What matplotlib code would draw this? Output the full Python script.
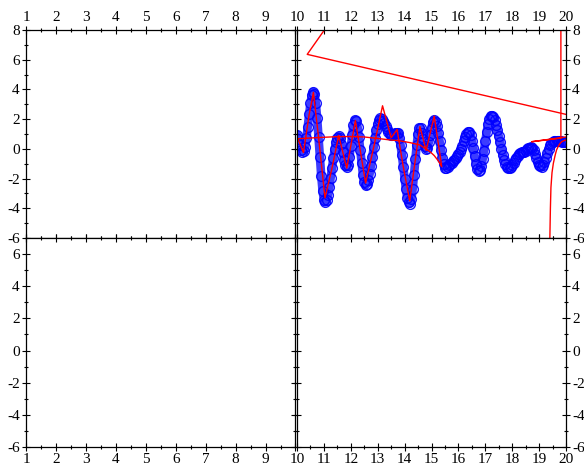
import numpy as np
import matplotlib
matplotlib.use("Agg")
import matplotlib.pyplot as plt
from matplotlib.ticker import MultipleLocator

plt.rcParams['font.family'] = ['Liberation Serif', 'DejaVu Serif']
plt.rcParams['axes.unicode_minus'] = False

# ---- data ----
x_start, x_stop, x_count = 10.0, 20.0, 201
blue_y = [
    0.95, 0.65, 0.25, -0.05, -0.2, -0.17, 0.13, 0.72, 1.49, 2.32, 3.07, 3.60, 3.84, 3.69, 3.07, 2.06, 0.80, -0.55, -1.81, -2.82,
    -3.44, -3.60, -3.45, -3.11, -2.60, -1.98, -1.31, -0.64, -0.04, 0.44, 0.75, 0.85, 0.71, 0.33, -0.2, -0.73, -1.11, -1.25, -1.06, -0.54,
    0.19, 0.96, 1.59, 1.92, 1.88, 1.49, 0.80, -0.07, -0.96, -1.74, -2.26, -2.45, -2.36, -2.09, -1.67, -1.13, -0.52, 0.12, 0.73, 1.27,
    1.69, 1.96, 2.05, 2.01, 1.90, 1.72, 1.52, 1.31, 1.12, 0.98, 0.91, 0.92, 0.98, 1.05, 1.09, 1.05, 0.76, 0.25, -0.44, -1.22,
    -2.01, -2.73, -3.28, -3.61, -3.69, -3.39, -2.71, -1.76, -0.70, 0.28, 1.03, 1.41, 1.39, 1.09, 0.63, 0.21, 0.01, 0.09, 0.43, 0.92,
    1.43, 1.81, 1.95, 1.84, 1.54, 1.07, 0.50, -0.09, -0.62, -1.03, -1.26, -1.29, -1.22, -1.12, -1.02, -0.93, -0.84, -0.74, -0.63, -0.5,
    -0.35, -0.2, -0.02, 0.22, 0.50, 0.78, 0.98, 1.12, 1.14, 0.93, 0.55, 0.04, -0.50, -0.99, -1.34, -1.50, -1.43, -1.16, -0.71, -0.13,
    0.50, 1.12, 1.65, 2.04, 2.23, 2.23, 2.12, 1.91, 1.62, 1.26, 0.86, 0.43, 0.01, -0.39, -0.73, -1.00, -1.20, -1.29, -1.28, -1.2,
    -1.07, -0.92, -0.76, -0.6, -0.46, -0.35, -0.27, -0.22, -0.2, -0.18, -0.12, -0.04, 0.04, 0.09, 0.1, 0.05, -0.11, -0.34, -0.60, -0.86,
    -1.06, -1.18, -1.19, -1.09, -0.89, -0.62, -0.31, -0.02, 0.23, 0.39, 0.45, 0.50, 0.53, 0.55, 0.56, 0.55, 0.52, 0.48, 0.45, 0.45,
    0.47,
]

# red path following the curve, then the arc back
red_a_x = [10.05, 10.24, 10.45, 10.61, 10.80, 11.04, 11.30, 11.55, 11.85, 12.17, 12.55, 12.85, 13.18, 13.50,
           13.72, 13.95, 14.19, 14.40, 14.57, 14.80, 15.10, 15.25, 15.38,
           15.25, 15.10, 14.95, 14.76, 14.57, 14.20, 13.80, 13.46, 13.00, 12.50, 12.00, 11.50, 11.00, 10.50, 10.00]
red_a_y = [0.60, -0.25, 2.30, 3.80, 0.80, -3.30, -1.30, 0.90, -1.30, 1.90, -2.30, 0.10, 2.90, 0.75,
           1.30, -1.20, -3.50, -0.70, 1.50, -0.10, 2.20, 0.40, -1.20,
           -0.80, -0.45, -0.20, 0.04, 0.26, 0.42, 0.55, 0.60, 0.70, 0.80, 0.83, 0.82, 0.78, 0.73, 0.68]
red_b_x = [11.60, 10.38, 20.00]
red_b_y = [9.50, 6.36, 2.32]
red_c_x = [19.81, 19.81, 18.72, 20.00]
red_c_y = [9.00, 0.72, 0.48, 0.80]
red_d_x = [19.38, 19.40, 19.42, 19.44, 19.48, 19.53, 19.60, 19.65, 19.72, 19.78, 19.85, 20.00]
red_d_y = [-7.0, -6.0, -4.0, -2.6, -1.6, -0.97, -0.40, -0.07, 0.20, 0.37, 0.50, 0.60]

xlim_left = (1, 10)
xlim_right = (10, 20)
ylim_top = (-6, 8)
ylim_bottom = (-6, 7)

# ---- figure ----
W, H = 584, 468
fig = plt.figure(figsize=(W / 100, H / 100), dpi=100)

def ax_px(l, t, r, b):
    return fig.add_axes([l / W, 1 - b / H, (r - l) / W, (b - t) / H])

ax_tl = ax_px(26, 30, 295.5, 238)
ax_tr = ax_px(297, 30, 566, 238)
ax_bl = ax_px(26, 238, 295.5, 447)
ax_br = ax_px(297, 238, 566, 447)

bx = np.linspace(x_start, x_stop, x_count)
ax_tr.plot(bx, blue_y, color='#1a1aff', linewidth=6.2, alpha=0.85,
           solid_capstyle='round', solid_joinstyle='round')
ax_tr.plot(bx, blue_y, linestyle='none', marker='o', markersize=7,
           markerfacecolor='none', markeredgecolor='blue', markeredgewidth=1.0, alpha=0.9)
for xs, ys in [(red_a_x, red_a_y), (red_b_x, red_b_y), (red_c_x, red_c_y), (red_d_x, red_d_y)]:
    ax_tr.plot(xs, ys, color='red', linewidth=1.0)

for ax, xl, yl in [(ax_tl, xlim_left, ylim_top), (ax_tr, xlim_right, ylim_top),
                   (ax_bl, xlim_left, ylim_bottom), (ax_br, xlim_right, ylim_bottom)]:
    ax.set_xlim(*xl)
    ax.set_ylim(*yl)
    ax.xaxis.set_major_locator(MultipleLocator(1))
    ax.xaxis.set_minor_locator(MultipleLocator(0.5))
    ax.yaxis.set_major_locator(MultipleLocator(2))
    ax.yaxis.set_minor_locator(MultipleLocator(1))
    ax.tick_params(which='both', direction='inout', top=True, bottom=True, left=True, right=True,
                   labelsize=11, pad=1.5, width=0.8)
    ax.tick_params(which='major', length=6)
    ax.tick_params(which='minor', length=3)
    for s in ax.spines.values():
        s.set_linewidth(0.9)

ax_tl.tick_params(labeltop=True, labelbottom=False, labelleft=True, labelright=False)
ax_tr.tick_params(labeltop=True, labelbottom=False, labelleft=False, labelright=True)
ax_bl.tick_params(labeltop=False, labelbottom=True, labelleft=True, labelright=False)
ax_br.tick_params(labeltop=False, labelbottom=True, labelleft=False, labelright=True)

# avoid doubled "10" at the shared vertical boundary
for ax in (ax_tl, ax_bl):
    ax.set_xticks([1, 2, 3, 4, 5, 6, 7, 8, 9, 10], ['1', '2', '3', '4', '5', '6', '7', '8', '9', ''])
    ax.xaxis.set_minor_locator(MultipleLocator(0.5))

fig.savefig("out.png", dpi=100)
